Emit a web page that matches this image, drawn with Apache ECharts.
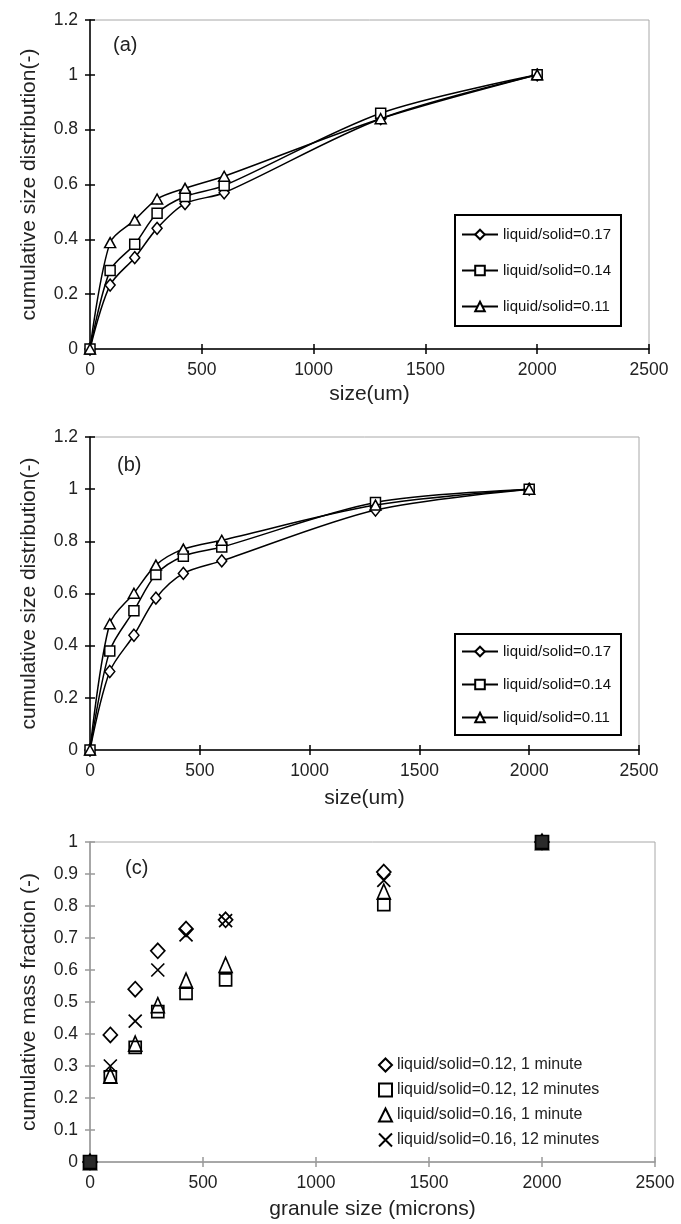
<!DOCTYPE html>
<html><head><meta charset="utf-8">
<script src="https://cdn.jsdelivr.net/npm/echarts@6/dist/echarts.min.js"></script>
<style>html,body{margin:0;padding:0;background:#fff}#c{width:681px;height:1224px}</style>
</head><body><div id="c"></div><script>
// ---- data ----
const xSize = [0, 90, 200, 300, 425, 600, 1300, 2000];
const xTicks = [0, 500, 1000, 1500, 2000, 2500];
const namesAB = ['liquid/solid=0.17', 'liquid/solid=0.14', 'liquid/solid=0.11'];
const aLS017 = [0, 0.233, 0.333, 0.44, 0.53, 0.57, 0.84, 1];
const aLS014 = [0, 0.286, 0.382, 0.495, 0.556, 0.596, 0.86, 1];
const aLS011 = [0, 0.388, 0.47, 0.547, 0.586, 0.63, 0.84, 1];
const bLS017 = [0, 0.301, 0.44, 0.582, 0.677, 0.725, 0.92, 1];
const bLS014 = [0, 0.38, 0.534, 0.673, 0.743, 0.778, 0.949, 1];
const bLS011 = [0, 0.484, 0.601, 0.709, 0.77, 0.804, 0.939, 1];
const namesC = ['liquid/solid=0.12, 1 minute', 'liquid/solid=0.12, 12 minutes', 'liquid/solid=0.16, 1 minute', 'liquid/solid=0.16, 12 minutes'];
const cLS012_1 = [0, 0.397, 0.54, 0.66, 0.728, 0.757, 0.906, 1];
const cLS012_12 = [0, 0.266, 0.358, 0.47, 0.527, 0.569, 0.804, 1];
const cLS016_1 = [0, 0.27, 0.37, 0.49, 0.567, 0.616, 0.845, 1];
const cLS016_12 = [0, 0.3, 0.44, 0.6, 0.71, 0.754, 0.88, 1];

// ---- styling ----
const FONT = '"Liberation Sans", Arial, sans-serif';
const NARROW = '"Liberation Sans Narrow", "Arial Narrow", "Liberation Sans", sans-serif';
const TXT = '#222';
const grids = [
  {left: 90, top: 20, width: 559, height: 329, show: true, borderColor: '#a8a8a8', borderWidth: 1},
  {left: 90, top: 437, width: 549, height: 313, show: true, borderColor: '#a8a8a8', borderWidth: 1},
  {left: 90, top: 842, width: 565, height: 320, show: true, borderColor: '#a8a8a8', borderWidth: 1}
];

function mkX(gi, name, color, nameGap) {
  const base = {gridIndex: gi, type: 'value', position: 'bottom', min: xTicks[0], max: xTicks[xTicks.length - 1], interval: xTicks[1] - xTicks[0], splitLine: {show: false}};
  return [
    Object.assign({}, base, {
      name: name, nameLocation: 'middle', nameGap: nameGap,
      nameTextStyle: {fontFamily: FONT, fontSize: 21, color: TXT},
      axisLine: {show: true, onZero: false, lineStyle: {color: color, width: 1.5}},
      axisTick: {show: true, length: 5, lineStyle: {color: color, width: 1.5}},
      axisLabel: {fontFamily: FONT, fontSize: 17.5, color: TXT, margin: 12, formatter: v => String(v)}
    }),
    Object.assign({}, base, {
      axisLine: {show: false},
      axisTick: {show: true, inside: true, length: 5, lineStyle: {color: color, width: 1.5}},
      axisLabel: {show: false}
    })
  ];
}
function mkY(gi, name, max, interval, color, nameGap) {
  const base = {gridIndex: gi, type: 'value', position: 'left', min: 0, max: max, interval: interval, splitLine: {show: false}};
  return [
    Object.assign({}, base, {
      name: name, nameLocation: 'middle', nameGap: nameGap,
      nameTextStyle: {fontFamily: FONT, fontSize: 21, color: TXT},
      axisLine: {show: true, onZero: false, lineStyle: {color: color, width: 1.5}},
      axisTick: {show: true, length: 5, lineStyle: {color: color, width: 1.5}},
      axisLabel: {fontFamily: FONT, fontSize: 17.5, color: TXT, margin: 12, formatter: v => String(+v.toFixed(2))}
    }),
    Object.assign({}, base, {
      axisLine: {show: false},
      axisTick: {show: true, inside: true, length: 5, lineStyle: {color: color, width: 1.5}},
      axisLabel: {show: false}
    })
  ];
}

const pts = arr => xSize.map((x, i) => [x, arr[i]]);
const symA = [
  {symbol: 'diamond', symbolSize: [10, 12]},
  {symbol: 'rect', symbolSize: 10},
  {symbol: 'triangle', symbolSize: [11, 10]}
];
function lineSeries(name, arr, gi, k) {
  return Object.assign({
    type: 'line', name: name, data: pts(arr), xAxisIndex: gi * 2, yAxisIndex: gi * 2,
    smooth: 0.3, showAllSymbol: true, z: 3 + k,
    lineStyle: {color: '#000', width: 1.5},
    itemStyle: {color: '#fff', borderColor: '#000', borderWidth: 1.5},
    emphasis: {disabled: true}
  }, symA[k]);
}
const symC = [
  {symbol: 'diamond', symbolSize: [14, 15]},
  {symbol: 'rect', symbolSize: 12},
  {symbol: 'triangle', symbolSize: [13, 15]},
  {symbol: 'path://M0,0L10,10M10,0L0,10', symbolSize: 13}
];
function scatterSeries(name, arr, k) {
  // overlapping end points (0 and 1) render as a dark block in the reference
  const data = pts(arr).map(p => (k === 1 && (p[1] === 0 || p[1] === 1))
    ? {value: p, symbolSize: 13, itemStyle: {color: '#2a2a2a', borderColor: '#000'}}
    : p);
  return Object.assign({
    type: 'scatter', name: name, data: data, xAxisIndex: 4, yAxisIndex: 4, z: k === 1 ? 8 : 3 + k,
    itemStyle: {color: 'rgba(255,255,255,0)', borderColor: '#000', borderWidth: 1.7, opacity: 1},
    emphasis: {disabled: true}
  }, symC[k]);
}

const legendAB = (top, gap, pad) => ({
  data: namesAB, orient: 'vertical', left: 455, top: top,
  borderColor: '#000', borderWidth: 2, padding: pad, itemGap: gap,
  itemWidth: 36, itemHeight: 12, selectedMode: false,
  textStyle: {fontFamily: NARROW, fontSize: 15, color: '#111'}
});

const option = {
  animation: false,
  backgroundColor: '#fff',
  title: [
    {text: '(a)', left: 108, top: 30, textStyle: {fontFamily: FONT, fontSize: 20, fontWeight: 'normal', color: TXT}},
    {text: '(b)', left: 112, top: 450, textStyle: {fontFamily: FONT, fontSize: 20, fontWeight: 'normal', color: TXT}},
    {text: '(c)', left: 120, top: 853, textStyle: {fontFamily: FONT, fontSize: 20, fontWeight: 'normal', color: TXT}}
  ],
  grid: grids,
  xAxis: [].concat(
    mkX(0, 'size(um)', '#000', 35),
    mkX(1, 'size(um)', '#000', 38),
    mkX(2, 'granule size (microns)', '#999', 37)
  ),
  yAxis: [].concat(
    mkY(0, 'cumulative size distribution(-)', 1.2, 0.2, '#000', 50),
    mkY(1, 'cumulative size distribution(-)', 1.2, 0.2, '#000', 50),
    mkY(2, 'cumulative mass fraction (-)', 1, 0.1, '#999', 50)
  ),
  legend: [
    legendAB(215, 21, [12, 10, 12, 6]),
    legendAB(634, 18, [10, 10, 10, 6]),
    {
      data: namesC, orient: 'vertical', left: 378, top: 1057, itemGap: 9,
      itemWidth: 13, itemHeight: 13, selectedMode: false, padding: 0,
      textStyle: {fontFamily: FONT, fontSize: 16, color: TXT}
    }
  ],
  series: [
    lineSeries(namesAB[0], aLS017, 0, 0),
    lineSeries(namesAB[1], aLS014, 0, 1),
    lineSeries(namesAB[2], aLS011, 0, 2),
    lineSeries(namesAB[0], bLS017, 1, 0),
    lineSeries(namesAB[1], bLS014, 1, 1),
    lineSeries(namesAB[2], bLS011, 1, 2),
    scatterSeries(namesC[0], cLS012_1, 0),
    scatterSeries(namesC[1], cLS012_12, 1),
    scatterSeries(namesC[2], cLS016_1, 2),
    scatterSeries(namesC[3], cLS016_12, 3)
  ]
};
const chart = echarts.init(document.getElementById('c'), null, {renderer: 'canvas'});
chart.setOption(option);
</script></body></html>
